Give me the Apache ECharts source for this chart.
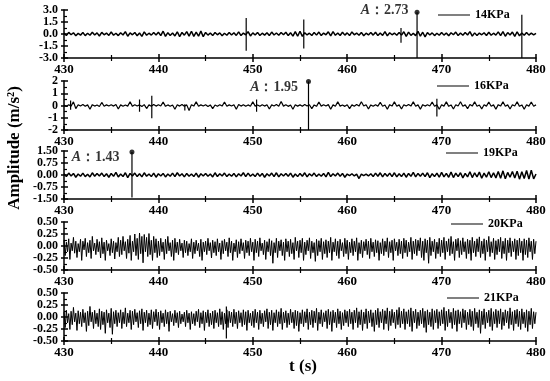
<!DOCTYPE html>
<html>
<head>
<meta charset="utf-8">
<script src="https://cdn.jsdelivr.net/npm/echarts@6/dist/echarts.min.js"></script>
<style>
  html, body { margin: 0; padding: 0; background: #fff; }
  #main { width: 550px; height: 381px; }
</style>
</head>
<body>
<div id="main"></div>
<script>
// time span of every panel (s)
var T0 = 430, T1 = 480;
var xTicks = [430, 440, 450, 460, 470, 480];

// pressure of each panel
var names = ['14KPa', '16KPa', '19KPa', '20KPa', '21KPa'];

// y axis of each panel: max (min = -max), tick step, decimals of the tick labels
var yMax = [3, 2, 1.5, 0.5, 0.5];
var yStep = [1.5, 1, 0.75, 0.25, 0.25];
var yDec = [1, 0, 2, 2, 2];

// sample step of the signals
var sampleStep = [0.25, 0.25, 0.25, 0.125, 0.125];

// 14KPa
var sig14 = [
  0.12,-0.18,0.2,-0.1,0.15,-0.22,0.08,-0.14,0.18,-0.2, 0.1,-0.16,0.22,-0.12,0.14,-0.25,0.2,-0.1,0.12,-0.18,
  0.25,-0.15,0.1,-0.2,0.16,-0.12,0.3,-0.28,0.14,-0.1, 0.18,-0.22,0.12,-0.3,0.26,-0.16,0.1,-0.14,0.2,-0.12,
  0.22,-0.2,0.35,-0.3,0.16,-0.18,0.12,-0.24,0.28,-0.32, 0.2,-0.15,0.3,-0.26,0.34,-0.3,0.22,-0.28,0.36,-0.34,
  0.2,-0.14,0.12,-0.2,0.18,-0.1,0.14,-0.22,0.1,-0.16, 0.2,-0.12,0.16,-0.18,0.26,-0.2,0.12,-0.1,0.3,-0.24,
  0.14,-0.12,0.2,-0.18,0.1,-0.14,0.16,-0.2,0.24,-0.12, 0.12,-0.16,0.18,-0.1,0.22,-0.2,0.15,-0.26,0.3,-0.28,
  0.35,-0.3,0.16,-0.12,0.1,-0.18,0.2,-0.14,0.24,-0.2, 0.12,-0.1,0.28,-0.22,0.3,-0.16,0.12,-0.18,0.22,-0.14,
  0.14,-0.2,0.26,-0.1,0.12,-0.16,0.2,-0.22,0.1,-0.12, 0.18,-0.14,0.22,-0.2,0.12,-0.18,0.3,-0.24,0.16,-0.1,
  0.12,-0.16,0.2,-0.14,0.28,-0.3,0.24,-0.18,0.1,-0.2, 0.34,-0.28,0.22,-0.36,0.18,-0.12,0.14,-0.2,0.1,-0.16,
  0.2,-0.14,0.12,-0.22,0.16,-0.1,0.24,-0.2,0.12,-0.16, 0.18,-0.12,0.3,-0.26,0.14,-0.2,0.12,-0.1,0.16,-0.18,
  0.22,-0.16,0.1,-0.14,0.26,-0.2,0.3,-0.28,0.18,-0.12, 0.24,-0.3,0.28,-0.22,0.12,-0.16,0.2,-0.14,0.1,-0.12,
  0.08
];
var spikeT14 = [449.3, 455.4, 465.7, 467.4, 478.5];
var spikeHi14 = [2.0, 1.8, 0.75, 2.73, 2.4];
var spikeLo14 = [-2.1, -1.8, -1.1, -3.0, -3.0];

// 16KPa
var sig16 = [
  0.05,-0.08,0.06,-0.05,0.3,-0.25,0.06,-0.04,0.08,-0.06, 0.05,-0.3,0.07,-0.05,0.04,-0.08,0.25,-0.06,0.05,-0.04,
  0.06,-0.05,0.08,-0.28,0.05,-0.06,0.04,-0.05,0.3,-0.07, 0.06,-0.04,0.05,-0.08,0.07,-0.25,0.05,-0.06,0.08,-0.05,
  0.06,-0.04,0.28,-0.07,0.05,-0.06,0.04,-0.3,0.06,-0.05, 0.08,-0.06,0.05,-0.4,0.07,-0.05,0.3,-0.06,0.05,-0.04,
  0.06,-0.08,0.05,-0.25,0.04,-0.06,0.07,-0.05,0.28,-0.06, 0.05,-0.04,0.06,-0.3,0.08,-0.05,0.06,-0.07,0.05,-0.06,
  0.3,-0.05,0.04,-0.06,0.07,-0.05,0.06,-0.28,0.05,-0.04, 0.08,-0.06,0.32,-0.05,0.06,-0.07,0.04,-0.3,0.06,-0.05,
  0.05,-0.06,0.08,-0.04,0.06,-0.26,0.05,-0.07,0.28,-0.05, 0.06,-0.04,0.07,-0.3,0.05,-0.06,0.3,-0.05,0.04,-0.07,
  0.06,-0.25,0.05,-0.06,0.08,-0.05,0.3,-0.04,0.06,-0.28, 0.05,-0.07,0.06,-0.05,0.26,-0.06,0.04,-0.3,0.07,-0.05,
  0.3,-0.06,0.05,-0.28,0.06,-0.04,0.08,-0.05,0.3,-0.06, 0.05,-0.3,0.07,-0.05,0.06,-0.04,0.28,-0.06,0.05,-0.3,
  0.06,-0.05,0.3,-0.07,0.05,-0.28,0.06,-0.04,0.3,-0.06, 0.05,-0.26,0.08,-0.05,0.3,-0.06,0.04,-0.28,0.06,-0.05,
  0.28,-0.06,0.05,-0.3,0.07,-0.05,0.3,-0.06,0.05,-0.28, 0.06,-0.04,0.3,-0.07,0.05,-0.3,0.06,-0.05,0.28,-0.06,
  0.05
];
var spikeT16 = [430.7, 438.0, 439.3, 442.8, 450.4, 455.9, 469.5];
var spikeHi16 = [0.4, 0.5, 0.8, 0.1, 0.5, 1.95, 0.55];
var spikeLo16 = [-0.35, -0.5, -1.05, -0.4, -0.5, -2.0, -0.9];

// 19KPa
var sig19 = [
  0.08,-0.1,0.12,-0.06,0.1,-0.14,0.06,-0.08,0.12,-0.1, 0.05,-0.12,0.14,-0.08,0.1,-0.06,0.12,-0.1,0.08,-0.14,
  0.1,-0.08,0.16,-0.12,0.06,-0.1,0.14,-0.16,0.1,-0.06, 0.12,-0.1,0.08,-0.12,0.14,-0.08,0.06,-0.1,0.12,-0.14,
  0.08,-0.06,0.1,-0.12,0.06,-0.08,0.12,-0.1,0.14,-0.06, 0.08,-0.12,0.1,-0.08,0.06,-0.1,0.12,-0.14,0.08,-0.06,
  0.1,-0.08,0.06,-0.12,0.14,-0.1,0.08,-0.06,0.12,-0.1, 0.06,-0.08,0.1,-0.12,0.08,-0.06,0.14,-0.1,0.12,-0.08,
  0.06,-0.1,0.12,-0.08,0.1,-0.14,0.08,-0.06,0.12,-0.1, 0.14,-0.12,0.08,-0.06,0.1,-0.08,0.12,-0.14,0.06,-0.1,
  0.1,-0.08,0.14,-0.12,0.08,-0.06,0.12,-0.1,0.06,-0.08, 0.1,-0.12,0.16,-0.1,0.08,-0.06,0.12,-0.08,0.1,-0.14,
  0.06,-0.04,0.08,-0.06,0.05,-0.22,0.06,-0.04,0.05,-0.06, 0.08,-0.1,0.12,-0.08,0.14,-0.12,0.1,-0.08,0.12,-0.1,
  0.14,-0.12,0.08,-0.1,0.12,-0.14,0.1,-0.08,0.16,-0.12, 0.1,-0.08,0.12,-0.1,0.14,-0.16,0.08,-0.1,0.12,-0.14,
  0.16,-0.12,0.1,-0.14,0.18,-0.16,0.12,-0.1,0.14,-0.18, 0.1,-0.12,0.2,-0.16,0.14,-0.12,0.18,-0.2,0.12,-0.14,
  0.2,-0.16,0.14,-0.18,0.22,-0.2,0.26,-0.24,0.16,-0.14, 0.22,-0.18,0.24,-0.26,0.2,-0.22,0.28,-0.26,0.3,-0.24,
  0.06
];
var spikeT19 = [437.2];
var spikeHi19 = [1.43];
var spikeLo19 = [-1.4];

// 20KPa
var sig20 = [
  0.12,-0.2,0.08,-0.12,0.15,-0.28,0.06,-0.1,0.18,-0.15,0.1,-0.24,0.05,-0.12,0.14,-0.3,
  0.1,-0.08,0.16,-0.22,0.07,-0.14,0.12,-0.26,0.2,-0.1,0.06,-0.18,0.14,-0.12,0.09,-0.25,
  0.17,-0.16,0.08,-0.3,0.12,-0.1,0.05,-0.2,0.15,-0.14,0.1,-0.27,0.07,-0.12,0.18,-0.22,
  0.12,-0.18,0.2,-0.1,0.09,-0.26,0.14,-0.15,0.22,-0.3,0.1,-0.12,0.25,-0.2,0.16,-0.28,
  0.27,-0.16,0.2,-0.35,0.24,-0.12,0.18,-0.22,0.26,-0.18,0.12,-0.3,0.2,-0.14,0.15,-0.24,
  0.1,-0.2,0.16,-0.12,0.08,-0.28,0.14,-0.16,0.2,-0.1,0.07,-0.22,0.12,-0.3,0.16,-0.14,
  0.08,-0.18,0.14,-0.1,0.06,-0.24,0.12,-0.14,0.1,-0.2,0.05,-0.12,0.15,-0.26,0.08,-0.16,
  0.12,-0.1,0.06,-0.22,0.14,-0.3,0.08,-0.12,0.1,-0.18,0.16,-0.1,0.07,-0.25,0.12,-0.14,
  0.09,-0.2,0.15,-0.12,0.06,-0.28,0.11,-0.16,0.14,-0.1,0.08,-0.22,0.17,-0.14,0.1,-0.3,
  0.06,-0.12,0.13,-0.24,0.09,-0.16,0.15,-0.1,0.07,-0.26,0.12,-0.14,0.1,-0.2,0.16,-0.12,
  0.08,-0.3,0.14,-0.14,0.1,-0.22,0.17,-0.1,0.06,-0.18,0.12,-0.28,0.09,-0.12,0.15,-0.2,
  0.11,-0.36,0.07,-0.14,0.16,-0.24,0.1,-0.1,0.13,-0.2,0.08,-0.3,0.15,-0.12,0.1,-0.22,
  0.14,-0.16,0.07,-0.28,0.18,-0.1,0.1,-0.24,0.12,-0.14,0.16,-0.3,0.08,-0.18,0.12,-0.1,
  0.17,-0.26,0.1,-0.14,0.07,-0.32,0.14,-0.2,0.11,-0.12,0.16,-0.28,0.09,-0.16,0.13,-0.24,
  0.1,-0.14,0.18,-0.3,0.08,-0.12,0.15,-0.2,0.1,-0.26,0.14,-0.1,0.07,-0.22,0.16,-0.16,
  0.12,-0.28,0.08,-0.14,0.15,-0.2,0.1,-0.12,0.17,-0.3,0.07,-0.16,0.12,-0.24,0.09,-0.1,
  0.14,-0.18,0.1,-0.26,0.16,-0.12,0.08,-0.22,0.13,-0.14,0.11,-0.3,0.07,-0.16,0.15,-0.2,
  0.1,-0.12,0.17,-0.24,0.09,-0.14,0.12,-0.3,0.15,-0.1,0.08,-0.2,0.14,-0.16,0.1,-0.26,
  0.16,-0.14,0.12,-0.22,0.08,-0.12,0.18,-0.28,0.1,-0.16,0.14,-0.2,0.12,-0.1,0.17,-0.24,
  0.1,-0.3,0.15,-0.14,0.12,-0.36,0.18,-0.2,0.1,-0.12,0.14,-0.26,0.08,-0.16,0.16,-0.22,
  0.12,-0.14,0.18,-0.28,0.1,-0.12,0.15,-0.2,0.2,-0.16,0.09,-0.3,0.14,-0.1,0.16,-0.24,
  0.11,-0.18,0.17,-0.12,0.09,-0.26,0.14,-0.16,0.12,-0.3,0.18,-0.14,0.1,-0.22,0.15,-0.12,
  0.19,-0.24,0.1,-0.16,0.15,-0.3,0.12,-0.12,0.2,-0.22,0.09,-0.14,0.16,-0.28,0.11,-0.18,
  0.14,-0.12,0.18,-0.26,0.1,-0.16,0.16,-0.3,0.12,-0.14,0.17,-0.22,0.1,-0.12,0.15,-0.28,
  0.12,-0.2,0.16,-0.14,0.1,-0.3,0.15,-0.18,0.12,-0.24,0.17,-0.12,0.1,-0.28,0.14,-0.16,
  0.1
];
var spikeT20 = [];
var spikeHi20 = [];
var spikeLo20 = [];

// 21KPa
var sig21 = [
  0.1,-0.22,0.14,-0.12,0.07,-0.26,0.12,-0.16,0.2,-0.1,0.08,-0.28,0.13,-0.14,0.1,-0.2,
  0.16,-0.12,0.09,-0.3,0.12,-0.18,0.22,-0.1,0.1,-0.24,0.14,-0.14,0.08,-0.2,0.17,-0.26,
  0.12,-0.16,0.1,-0.34,0.15,-0.12,0.08,-0.22,0.18,-0.36,0.11,-0.14,0.14,-0.2,0.09,-0.12,
  0.15,-0.24,0.1,-0.14,0.19,-0.2,0.08,-0.12,0.14,-0.26,0.12,-0.16,0.16,-0.1,0.09,-0.22,
  0.13,-0.14,0.17,-0.28,0.1,-0.12,0.14,-0.2,0.08,-0.16,0.15,-0.24,0.11,-0.1,0.16,-0.18,
  0.1,-0.26,0.13,-0.12,0.08,-0.2,0.15,-0.14,0.1,-0.3,0.12,-0.1,0.07,-0.18,0.14,-0.12,
  0.09,-0.22,0.12,-0.14,0.06,-0.1,0.1,-0.2,0.14,-0.12,0.08,-0.26,0.11,-0.14,0.07,-0.18,
  0.12,-0.1,0.16,-0.22,0.09,-0.14,0.13,-0.28,0.1,-0.12,0.15,-0.2,0.08,-0.16,0.12,-0.24,
  0.14,-0.12,0.09,-0.2,0.17,-0.16,0.11,-0.26,0.08,-0.14,0.15,-0.22,0.12,-0.12,0.1,-0.2,
  0.16,-0.14,0.1,-0.24,0.13,-0.12,0.09,-0.2,0.15,-0.16,0.11,-0.28,0.14,-0.12,0.08,-0.18,
  0.12,-0.22,0.16,-0.12,0.1,-0.26,0.14,-0.14,0.08,-0.2,0.13,-0.1,0.17,-0.24,0.1,-0.16,
  0.14,-0.28,0.09,-0.12,0.15,-0.2,0.11,-0.14,0.18,-0.26,0.1,-0.12,0.13,-0.22,0.08,-0.16,
  0.16,-0.12,0.1,-0.24,0.14,-0.18,0.12,-0.3,0.09,-0.14,0.15,-0.2,0.11,-0.12,0.17,-0.26,
  0.1,-0.16,0.14,-0.22,0.12,-0.12,0.18,-0.28,0.1,-0.14,0.15,-0.2,0.09,-0.1,0.13,-0.24,
  0.16,-0.16,0.11,-0.3,0.14,-0.12,0.1,-0.22,0.17,-0.14,0.12,-0.26,0.09,-0.18,0.15,-0.12,
  0.12,-0.2,0.16,-0.14,0.1,-0.26,0.14,-0.12,0.19,-0.22,0.11,-0.16,0.15,-0.28,0.1,-0.14,
  0.17,-0.24,0.12,-0.12,0.15,-0.2,0.09,-0.3,0.14,-0.16,0.18,-0.22,0.11,-0.12,0.16,-0.26,
  0.13,-0.14,0.19,-0.28,0.12,-0.18,0.16,-0.12,0.1,-0.24,0.15,-0.16,0.2,-0.22,0.12,-0.14,
  0.17,-0.26,0.11,-0.14,0.15,-0.2,0.19,-0.3,0.12,-0.12,0.16,-0.24,0.1,-0.18,0.14,-0.14,
  0.18,-0.22,0.12,-0.32,0.15,-0.16,0.1,-0.2,0.17,-0.26,0.13,-0.12,0.16,-0.24,0.11,-0.18,
  0.15,-0.14,0.2,-0.28,0.12,-0.2,0.16,-0.12,0.1,-0.24,0.18,-0.16,0.13,-0.3,0.15,-0.14,
  0.11,-0.22,0.17,-0.12,0.14,-0.26,0.1,-0.16,0.16,-0.2,0.12,-0.28,0.18,-0.14,0.1,-0.22,
  0.15,-0.34,0.12,-0.16,0.17,-0.24,0.1,-0.12,0.14,-0.2,0.18,-0.28,0.11,-0.14,0.16,-0.22,
  0.13,-0.14,0.17,-0.26,0.1,-0.18,0.15,-0.12,0.12,-0.24,0.19,-0.16,0.11,-0.28,0.14,-0.14,
  0.16,-0.2,0.12,-0.26,0.17,-0.14,0.1,-0.22,0.15,-0.3,0.12,-0.16,0.18,-0.24,0.11,-0.14,
  0.1
];
var spikeT21 = [447.2];
var spikeHi21 = [0.22];
var spikeLo21 = [-0.45];

// peak amplitude A marked on the first three panels
var peakT = [467.4, 455.9, 437.2];
var peakA = [2.73, 1.95, 1.43];

var signals = [sig14, sig16, sig19, sig20, sig21];
var spikeT = [spikeT14, spikeT16, spikeT19, spikeT20, spikeT21];
var spikeHi = [spikeHi14, spikeHi16, spikeHi19, spikeHi20, spikeHi21];
var spikeLo = [spikeLo14, spikeLo16, spikeLo19, spikeLo20, spikeLo21];

// layout
var gridTop = [10, 81, 151, 222, 293];
var gridH = [48, 49, 48, 48, 48];
var legendLeft = [438, 437, 446, 451, 447];
var legendMid = [16, 87, 154, 225, 299];
var noiseWidth = [1.5, 1.2, 1.5, 1, 1];
var peakLabel = [
  { distance: 6, offset: [0, -2] },
  { distance: 8, offset: [0, 6] },
  { distance: 10, offset: [0, 5] }
];

var FONT = '"Liberation Serif", "Times New Roman", serif';
var lineColor = '#000';

var myChart = echarts.init(document.getElementById('main'), null, { renderer: 'canvas' });

var grids = [], xAxes = [], yAxes = [], series = [], legends = [];

for (var i = 0; i < 5; i++) {
  grids.push({ left: 64, right: 14, top: gridTop[i], height: gridH[i] });

  // x axis with labels + ticks below the line
  xAxes.push({
    type: 'value', gridIndex: i, position: 'bottom',
    min: T0, max: T1, interval: 10,
    axisLine: { show: true, onZero: false, lineStyle: { color: lineColor, width: 1.5 } },
    axisTick: { show: true, inside: false, length: 4, lineStyle: { color: lineColor, width: 1.5 } },
    minorTick: { show: true, splitNumber: 2, length: 3, lineStyle: { color: lineColor, width: 1.2 } },
    axisLabel: {
      show: true, margin: 5, color: '#000', fontFamily: FONT, fontWeight: 'bold', fontSize: 13,
      showMinLabel: true, showMaxLabel: true,
      formatter: function (v) { return xTicks.indexOf(v) >= 0 ? String(v) : ''; }
    },
    splitLine: { show: false }
  });
  // twin x axis for the ticks above the line
  xAxes.push({
    type: 'value', gridIndex: i, position: 'bottom',
    min: T0, max: T1, interval: 10,
    axisLine: { show: false, onZero: false },
    axisTick: { show: true, inside: true, length: 4, lineStyle: { color: lineColor, width: 1.5 } },
    minorTick: { show: true, splitNumber: 2, length: 3, lineStyle: { color: lineColor, width: 1.2 } },
    axisLabel: { show: false },
    splitLine: { show: false }
  });

  (function (dec) {
    yAxes.push({
      type: 'value', gridIndex: i, position: 'left',
      min: -yMax[i], max: yMax[i], interval: yStep[i],
      axisLine: { show: true, onZero: false, lineStyle: { color: lineColor, width: 1.5 } },
      axisTick: { show: true, inside: false, length: 3, lineStyle: { color: lineColor, width: 1.5 } },
      axisLabel: {
        show: true, margin: 6, color: '#000', fontFamily: FONT, fontWeight: 'bold', fontSize: 12,
        lineHeight: 9, showMinLabel: true, showMaxLabel: true, hideOverlap: false,
        formatter: function (v) { return v.toFixed(dec); }
      },
      splitLine: { show: false }
    });
  })(yDec[i]);
  yAxes.push({
    type: 'value', gridIndex: i, position: 'left',
    min: -yMax[i], max: yMax[i], interval: yStep[i],
    axisLine: { show: false, onZero: false },
    axisTick: { show: true, inside: true, length: 4, lineStyle: { color: lineColor, width: 1.5 } },
    minorTick: { show: true, splitNumber: 2, length: 3, lineStyle: { color: lineColor, width: 1.2 } },
    axisLabel: { show: false },
    splitLine: { show: false }
  });

  var pts = signals[i].map(function (v, k) { return [T0 + k * sampleStep[i], v]; });
  series.push({
    name: names[i], type: 'line', xAxisIndex: 2 * i, yAxisIndex: 2 * i,
    data: pts, symbol: 'none', animation: false,
    itemStyle: { color: lineColor },
    lineStyle: { color: lineColor, width: noiseWidth[i] }
  });

  var sp = [];
  spikeT[i].forEach(function (t, k) {
    sp.push([t, spikeLo[i][k]], [t, spikeHi[i][k]], '-');
  });
  if (sp.length) {
    series.push({
      name: names[i] + '-spike', type: 'line', xAxisIndex: 2 * i, yAxisIndex: 2 * i,
      data: sp, symbol: 'none', connectNulls: false, animation: false,
      itemStyle: { color: lineColor },
      lineStyle: { color: lineColor, width: 1.2 }
    });
  }

  if (i < peakA.length) {
    (function (a, lab) {
      series.push({
        name: names[i] + '-peak', type: 'scatter', xAxisIndex: 2 * i, yAxisIndex: 2 * i,
        data: [[peakT[i], a]], symbol: 'circle', symbolSize: 5, animation: false,
        itemStyle: { color: lineColor },
        label: {
          show: true, position: 'left', distance: lab.distance, offset: lab.offset,
          formatter: function () { return '{a|A}{v|：' + a.toFixed(2) + '}'; },
          rich: {
            a: { fontFamily: FONT, fontStyle: 'italic', fontWeight: 'bold', fontSize: 14, color: '#000' },
            v: { fontFamily: FONT, fontWeight: 'bold', fontSize: 14, color: '#000' }
          }
        }
      });
    })(peakA[i], peakLabel[i]);
  }

  legends.push({
    data: [names[i]], left: legendLeft[i], top: legendMid[i] - 7,
    icon: 'path://M0,0 L32,0 L32,1 L0,1 Z',
    itemWidth: 32, itemHeight: 1.4, itemGap: 0, padding: 0,
    itemStyle: { color: lineColor, borderWidth: 0 },
    textStyle: { fontFamily: FONT, fontWeight: 'bold', fontSize: 12, color: '#000' },
    selectedMode: false
  });
}

myChart.setOption({
  animation: false,
  backgroundColor: '#fff',
  grid: grids,
  xAxis: xAxes,
  yAxis: yAxes,
  legend: legends,
  series: series,
  graphic: [
    {
      type: 'text', x: 15, y: 148, rotation: Math.PI / 2,
      style: {
        text: 'Amplitude (m/s²)', fontFamily: FONT, fontWeight: 'bold', fontSize: 17,
        fill: '#000', align: 'center', verticalAlign: 'middle'
      }
    },
    {
      type: 'text', x: 303, y: 367,
      style: {
        text: 't (s)', fontFamily: FONT, fontWeight: 'bold', fontSize: 17,
        fill: '#000', align: 'center', verticalAlign: 'middle'
      }
    }
  ]
});
</script>
</body>
</html>
